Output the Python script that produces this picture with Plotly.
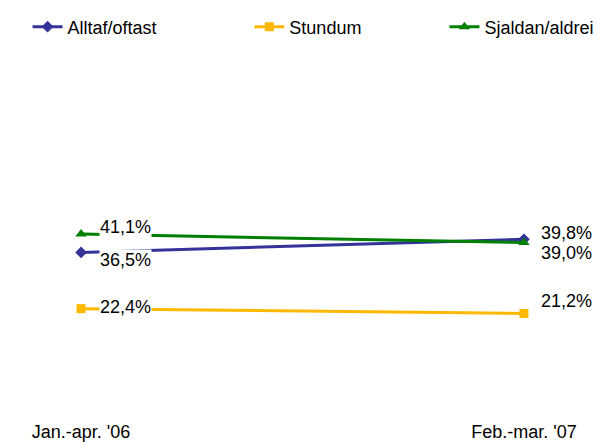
import plotly.graph_objects as go

# Data
perioder = ["Jan.-apr. '06", "Feb.-mar. '07"]
alltaf_oftast = [36.5, 39.8]
stundum = [22.4, 21.2]
sjaldan_aldrei = [41.1, 39.0]

serier = [
    ("Alltaf/oftast", alltaf_oftast, "#333399", "diamond", 9, "legend"),
    ("Stundum", stundum, "#FFB800", "square", 9, "legend2"),
    ("Sjaldan/aldrei", sjaldan_aldrei, "#008000", "triangle-up", 10, "legend3"),
]

fig = go.Figure()
for navn, vals, litur, merki, staerd, leg in serier:
    fig.add_trace(go.Scatter(
        x=perioder, y=vals, name=navn, mode="lines+markers",
        line=dict(color=litur, width=3),
        marker=dict(symbol=merki, size=staerd, color=litur),
        legend=leg, hoverinfo="skip"
    ))

def fmt(v):
    return f"{v:.1f}%".replace(".", ",")

# label offsets (x shift, y shift), left and right points
vinstri = {"Alltaf/oftast": (44, -8), "Stundum": (44, 2), "Sjaldan/aldrei": (44, 7)}
haegri = {"Alltaf/oftast": (16, 6), "Stundum": (16, 12), "Sjaldan/aldrei": (16, -11)}

for navn, vals, litur, merki, staerd, leg in serier:
    dx, dy = vinstri[navn]
    fig.add_annotation(x=perioder[0], y=vals[0], text=fmt(vals[0]), showarrow=False,
                       xshift=dx, yshift=dy, bgcolor="white", borderpad=0,
                       font=dict(size=18, color="black"))
    dx, dy = haegri[navn]
    fig.add_annotation(x=perioder[1], y=vals[1], text=fmt(vals[1]), showarrow=False,
                       xanchor="left", xshift=dx, yshift=dy, borderpad=0,
                       font=dict(size=18, color="black"))

leg_style = dict(orientation="h", yanchor="middle", y=1.163, xanchor="left",
                 font=dict(size=18, color="black"), bgcolor="rgba(0,0,0,0)")

fig.update_layout(
    width=593, height=434,
    margin=dict(l=0, r=0, t=58, b=44),
    paper_bgcolor="white", plot_bgcolor="white",
    font=dict(family="Liberation Sans, Arial, sans-serif", size=18, color="black"),
    showlegend=True,
    legend=dict(x=0.033, **leg_style),
    legend2=dict(x=0.407, **leg_style),
    legend3=dict(x=0.736, **leg_style),
    xaxis=dict(type="category", range=[-0.165, 1.174], showgrid=False, zeroline=False,
               showline=False, ticks="", ticklabelstandoff=21),
    yaxis=dict(range=[0, 80], visible=False),
)

fig.write_html("out.html")
